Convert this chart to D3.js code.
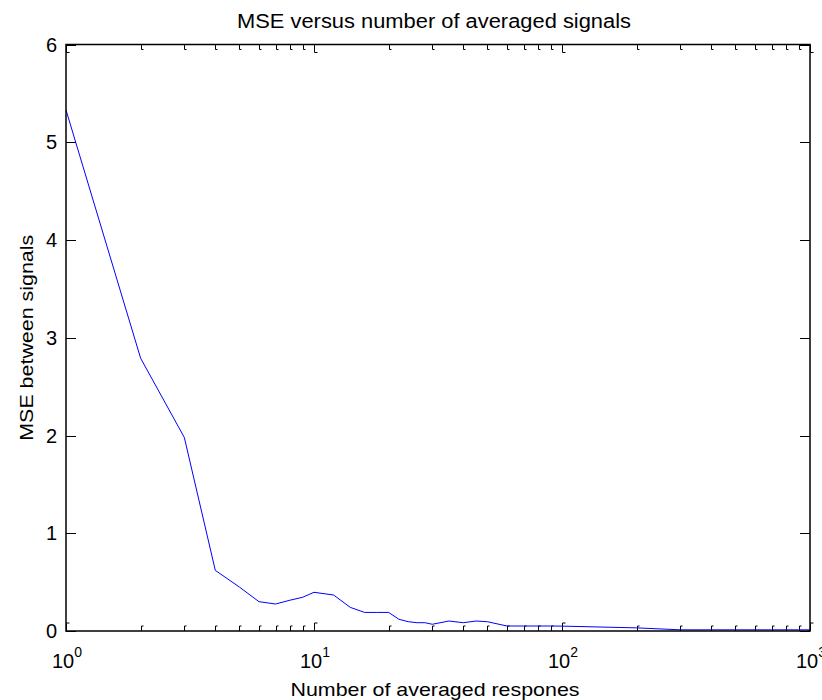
<!DOCTYPE html>
<html>
<head>
<meta charset="utf-8">
<script src="https://cdn.jsdelivr.net/npm/d3@7"></script>
<style>
  body { margin: 0; background: #fff; }
  text { font-family: "Liberation Sans", Arial, sans-serif; fill: #000; }
</style>
</head>
<body>
<script>
// data
var nAvg = [1, 2, 3, 4, 5, 6, 7, 8, 9, 10, 12, 14, 16, 18, 20, 22, 24, 26, 28, 30,
            35, 40, 45, 50, 60, 70, 80, 90, 100, 200, 300, 400, 500, 600, 700, 800, 900, 1000];
var mse = [5.33, 2.79, 1.98, 0.62, 0.45, 0.30, 0.276, 0.315, 0.345, 0.396, 0.368, 0.242, 0.19, 0.19, 0.19,
           0.12, 0.095, 0.085, 0.085, 0.069, 0.102, 0.085, 0.102, 0.095, 0.051, 0.051, 0.051, 0.051, 0.05,
           0.032, 0.012, 0.012, 0.012, 0.012, 0.012, 0.012, 0.012, 0.012];
var xMajor = [1, 10, 100, 1000];
var yTicks = [0, 1, 2, 3, 4, 5, 6];

// plot box (pixels)
var W = 822, H = 700;
var box = {left: 66, right: 810, top: 44.5, bottom: 631};

var x = d3.scaleLog().domain([1, 1000]).range([box.left, box.right]);
var y = d3.scaleLinear().domain([0, 6]).range([box.bottom, box.top]);

var svg = d3.select("body").append("svg")
    .attr("width", W)
    .attr("height", H);

// minor ticks 2..9 per decade
var xMinor = [];
[1, 10, 100].forEach(function(d) {
  for (var k = 2; k <= 9; k++) xMinor.push(d * k);
});

var ticks = svg.append("g").attr("stroke", "#000").attr("stroke-width", 1).attr("fill", "none");

// bottom / top minor ticks (small hooked marks)
xMinor.forEach(function(v) {
  var px = Math.round(x(v)) + 0.5;
  ticks.append("path").attr("d", "M" + px + "," + box.bottom + "V" + (box.bottom - 5) + "h2");
  ticks.append("path").attr("d", "M" + px + "," + box.top + "V" + (box.top + 5) + "h2");
});
// major x ticks
xMajor.forEach(function(v) {
  var px = Math.round(x(v)) + 0.5;
  ticks.append("path").attr("d", "M" + px + "," + box.bottom + "V" + (box.bottom - 8) + "h3");
  ticks.append("path").attr("d", "M" + px + "," + box.top + "V" + (box.top + 8) + "h3");
});
// y ticks, left and right
yTicks.forEach(function(v) {
  var py = Math.round(y(v)) + 0.5;
  ticks.append("line").attr("x1", box.left).attr("x2", box.left + 10).attr("y1", py).attr("y2", py);
  ticks.append("line").attr("x1", box.right).attr("x2", box.right - 10).attr("y1", py).attr("y2", py);
});

// the curve
var line = d3.line()
    .x(function(d, i) { return x(nAvg[i]); })
    .y(function(d) { return y(d); });

svg.append("path")
    .datum(mse)
    .attr("fill", "none")
    .attr("stroke", "#0000ff")
    .attr("stroke-width", 1)
    .attr("d", line);

// axes box
svg.append("rect")
    .attr("x", box.left).attr("y", box.top)
    .attr("width", box.right - box.left).attr("height", box.bottom - box.top)
    .attr("fill", "none")
    .attr("stroke", "#000")
    .attr("stroke-width", 1.5);

// x tick labels 10^k
xMajor.forEach(function(v) {
  var t = svg.append("text")
      .attr("x", x(v) + 1)
      .attr("y", 668)
      .attr("text-anchor", "middle")
      .style("font-size", "20px");
  t.append("tspan").text("10");
  t.append("tspan").attr("dy", -11).style("font-size", "14px").text(Math.round(Math.log10(v)));
});

// y tick labels
yTicks.forEach(function(v) {
  svg.append("text")
      .attr("x", 57)
      .attr("y", y(v))
      .attr("dy", "0.36em")
      .attr("text-anchor", "end")
      .style("font-size", "20px")
      .text(v);
});

// title and axis labels
svg.append("text")
    .attr("x", 434)
    .attr("y", 28)
    .attr("text-anchor", "middle")
    .attr("textLength", 394)
    .attr("lengthAdjust", "spacingAndGlyphs")
    .style("font-size", "20px")
    .text("MSE versus number of averaged signals");

svg.append("text")
    .attr("x", 435)
    .attr("y", 696)
    .attr("text-anchor", "middle")
    .attr("textLength", 289)
    .attr("lengthAdjust", "spacingAndGlyphs")
    .style("font-size", "19px")
    .text("Number of averaged respones");

svg.append("text")
    .attr("transform", "translate(33," + ((box.top + box.bottom) / 2) + ") rotate(-90)")
    .attr("text-anchor", "middle")
    .attr("textLength", 206)
    .attr("lengthAdjust", "spacingAndGlyphs")
    .style("font-size", "19px")
    .text("MSE between signals");
</script>
</body>
</html>
